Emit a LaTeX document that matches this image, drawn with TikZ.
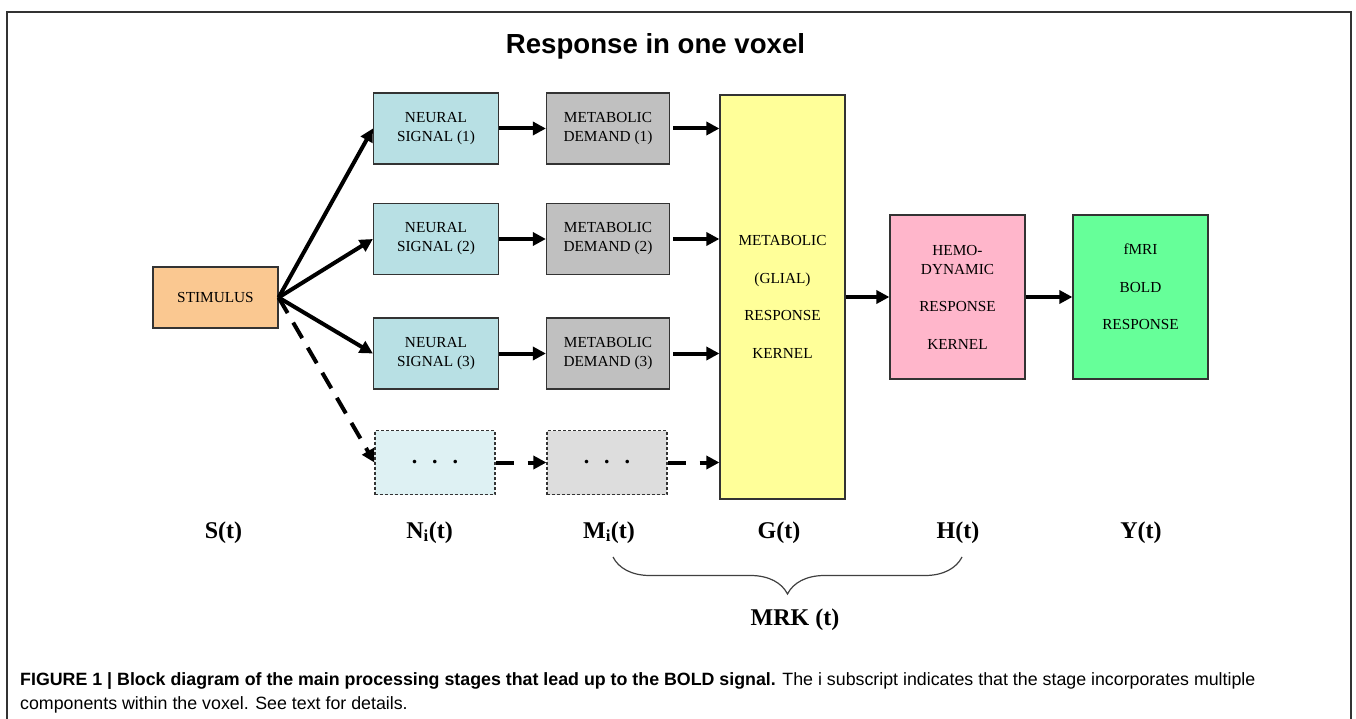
\documentclass[tikz,border=0pt]{standalone}
\usepackage{fontspec}
\setmainfont{Liberation Serif}
\newfontfamily\capfont{Liberation Sans}
\usetikzlibrary{arrows.meta,decorations.pathreplacing}
\definecolor{stimcol}{RGB}{250,200,145}
\definecolor{neucol}{RGB}{184,224,228}
\definecolor{neulight}{RGB}{222,241,243}
\definecolor{metcol}{RGB}{192,192,192}
\definecolor{metlight}{RGB}{221,221,221}
\definecolor{glicol}{RGB}{255,255,153}
\definecolor{hemcol}{RGB}{255,182,203}
\definecolor{boldcol}{RGB}{102,255,153}
\begin{document}
\begin{tikzpicture}[x=1pt, y=-1pt,
  blk/.style={draw=black!80, line width=1.2pt, align=center, inner sep=0pt,
    font=\fontsize{15.3}{19}\selectfont},
  smallblk/.style={blk, minimum width=125pt, minimum height=71pt},
  dotblk/.style={blk, dashed, dash pattern=on 3pt off 2pt, minimum width=120pt, minimum height=64pt,
    font=\bfseries\fontsize{22}{24}\selectfont},
  tallblk/.style={blk, minimum width=135pt, minimum height=164pt},
  lbl/.style={anchor=base, font=\bfseries\fontsize{24}{28}\selectfont}]
\useasboundingbox (0,0) rectangle (1356,719);
\draw[black!80, line width=1.4pt] (7,719) |- (1351,12) -- (1351,719);
\node[anchor=base, font=\capfont\bfseries\fontsize{27.6}{30}\selectfont] (title) at (655.5,53.3) {Response in one voxel};
\node[blk, fill=stimcol, minimum width=125pt, minimum height=61pt] (stim) at (215.5,297.5) {STIMULUS};
\foreach \i/\yy in {1/128.5, 2/239, 3/353.5} {
  \node[smallblk, fill=neucol] (n\i) at (436,\yy) {NEURAL\\SIGNAL (\i)};
  \node[smallblk, fill=metcol, minimum width=123pt] (m\i) at (608,\yy) {METABOLIC\\DEMAND (\i)};
}
\node[dotblk, fill=neulight] (nd) at (435,462.5) {.\hspace{15pt}.\hspace{15pt}.};
\node[dotblk, fill=metlight] (md) at (607,462.5) {.\hspace{15pt}.\hspace{15pt}.};
\node[blk, fill=glicol, minimum width=125pt, minimum height=404pt] (G) at (782.5,297)
  {METABOLIC\\[18.5pt](GLIAL)\\[18.5pt]RESPONSE\\[18.5pt]KERNEL};
\node[tallblk, fill=hemcol] (H) at (957.5,297) {HEMO-\\DYNAMIC\\[18.5pt]RESPONSE\\[18.5pt]KERNEL};
\node[tallblk, fill=boldcol] (Y) at (1140.5,297) {fMRI\\[18.5pt]BOLD\\[18.5pt]RESPONSE\\[1pt]\mbox{}};
\begin{scope}[line width=4pt, -{Triangle[length=13pt, width=13pt]}]
\foreach \i in {1,2,3} {
  \draw (stim.east) -- (n\i.west);
  \draw (n\i) -- (m\i);
  \draw[shorten <=3pt] (m\i.east) -- (m\i.east -| G.west);
}
\draw[dash pattern=on 18pt off 11pt] (stim.east) -- (nd.west);
\draw[dash pattern=on 18pt off 14pt] (nd) -- (md);
\draw[dash pattern=on 18pt off 14pt] (md.east) -- (md.east -| G.west);
\draw (G) -- (H);
\draw (H) -- (Y);
\end{scope}
\node[lbl] (Slab) at (223.5,538) {S(t)};
\node[lbl] (Nlab) at (429.5,538) {N\textsubscript{i}(t)};
\node[lbl] (Mlab) at (609,538) {M\textsubscript{i}(t)};
\node[lbl] (Glab) at (779,538) {G(t)};
\node[lbl] (Hlab) at (958,538) {H(t)};
\node[lbl] (Ylab) at (1141,538) {Y(t)};
\coordinate (bl) at (613,557);
\coordinate (br) at (962,557);
\draw[decorate, decoration={brace, mirror, amplitude=37pt}, black!75, line width=1.2pt] (bl) -- (br);
\node[lbl] (mrk) at (795,625) {MRK (t)};
\node[anchor=base west, align=left, inner sep=0pt, font=\capfont\fontsize{17.8}{24}\selectfont] (caption) at (20,709)
  {\textbf{FIGURE 1 | Block diagram of the main processing stages that lead up to the BOLD signal.} The i subscript indicates that the stage incorporates multiple\\components within the voxel. See text for details.};
\end{tikzpicture}
\end{document}
